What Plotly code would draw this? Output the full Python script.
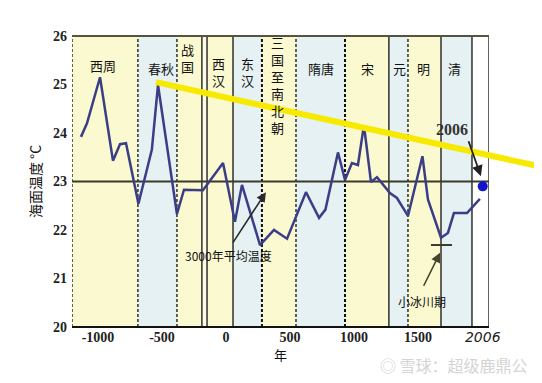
import plotly.graph_objects as go

# ---------------- data ----------------
years = [-1133, -1086, -984, -883, -828, -781, -684, -579, -531, -383, -328, -180,
         -23, 70, 125, 266, 375, 477, 625, 727, 777, 875, 930, 984, 1031, 1078,
         1133, 1180, 1281, 1336, 1422, 1535, 1578, 1680, 1734, 1781, 1883, 1984]
temps = [23.92, 24.2, 25.15, 23.43, 23.77, 23.79, 22.54, 23.66, 24.99, 22.33, 22.83, 22.82,
         23.38, 22.17, 22.93, 21.69, 22.0, 21.82, 22.78, 22.25, 22.42, 23.6, 23.03, 23.38, 23.34, 24.16,
         22.99, 23.09, 22.76, 22.66, 22.29, 23.52, 22.63, 21.84, 21.94, 22.35, 22.35, 22.64]

mean_temp = 23.0
point_2006_year = 2006
point_2006_temp = 22.9

x_range = [-1203, 2055]
y_range = [20, 26]

# dynasty bands
band_edges = [-1203, -688, -383, -188, -148, 55, 281, 547, 930, 1273, 1422, 1680, 1922, 2055]
band_kind = ["y", "b", "y", "w", "y", "b", "y", "b", "y", "b", "y", "b", "n"]
divider_years = [-1203, -688, -383, -188, -148, 55, 281, 547, 930, 1273, 1422, 1680, 1922, 2055]
divider_style = ["d", "d", "d", "s", "s", "s", "D", "d", "D", "s", "d", "s", "s", "s"]

dynasty_names = ["西周", "春秋", "战<br>国", "西<br>汉", "东<br>汉",
                 "三<br>国<br>至<br>南<br>北<br>朝", "隋唐", "宋", "元", "明", "清"]
dynasty_x = [-961, -508, -297, -55, 172, 406, 742, 1102, 1352, 1547, 1789]
dynasty_y = [25.4, 25.32, 25.55, 25.26, 25.26, 25.0, 25.32, 25.32, 25.32, 25.32, 25.32]

# trend line (yellow) endpoints
trend_years = [-547, 2469]
trend_temps = [25.05, 23.30]

# little ice age marker
lia_years = [1602, 1766]
lia_temp = 21.69

x_tickvals = [-1000, -500, 0, 500, 1000, 1500, 2006]
x_ticktext = ["-1000", "-500", "0", "500", "1000", "1500",
              "<span style='font-family:DejaVu Sans;font-style:italic;font-weight:normal'>2006</span>"]
y_tickvals = [20, 21, 22, 23, 24, 25, 26]

# ---------------- figure ----------------
fig = go.Figure()

CJK = "Noto Sans CJK SC"
colors = {"y": "#fbf9cf", "b": "#e6f1f3", "w": "#fcfce6", "n": "#ffffff"}

shapes = []
for i, k in enumerate(band_kind):
    shapes.append(dict(type="rect", xref="x", yref="y domain", x0=band_edges[i], x1=band_edges[i + 1],
                       y0=0, y1=1, fillcolor=colors[k], line_width=0, layer="below"))

for xv, st in zip(divider_years, divider_style):
    if st == "s":
        ln = dict(color="#111111", width=1.3)
    elif st == "d":
        ln = dict(color="#111111", width=1.3, dash="3px,2px")
    else:
        ln = dict(color="#111111", width=2, dash="3px,2px")
    shapes.append(dict(type="line", xref="x", yref="y domain", x0=xv, x1=xv, y0=0, y1=1,
                       line=ln, layer="below"))

# top and bottom borders
shapes.append(dict(type="line", xref="x domain", yref="y domain", x0=0, x1=1, y0=1, y1=1,
                   line=dict(color="#55553f", width=2), layer="below"))
shapes.append(dict(type="line", xref="x domain", yref="y domain", x0=0, x1=1, y0=0, y1=0,
                   line=dict(color="#111111", width=2), layer="below"))
# mean temperature line
shapes.append(dict(type="line", xref="x domain", yref="y", x0=0, x1=1, y0=mean_temp, y1=mean_temp,
                   line=dict(color="#3a3a2c", width=2), layer="below"))

# yellow trend line in paper coords (computed from data units)
def px(xv):
    return (xv - x_range[0]) / (x_range[1] - x_range[0])

def py(yv):
    return (yv - y_range[0]) / (y_range[1] - y_range[0])

shapes.append(dict(type="line", xref="paper", yref="paper",
                   x0=px(trend_years[0]), y0=py(trend_temps[0]),
                   x1=px(trend_years[1]), y1=py(trend_temps[1]),
                   line=dict(color="#f7ea00", width=6), layer="above"))

fig.add_trace(go.Scatter(x=years, y=temps, mode="lines",
                         line=dict(color="#3b3e86", width=2.5), hoverinfo="skip"))
fig.add_trace(go.Scatter(x=lia_years, y=[lia_temp, lia_temp], mode="lines",
                         line=dict(color="#3a3a2c", width=2), hoverinfo="skip"))
fig.add_trace(go.Scatter(x=[point_2006_year], y=[point_2006_temp], mode="markers",
                         marker=dict(color="#1414c8", size=10), cliponaxis=False, hoverinfo="skip"))

annotations = []
for name, xv, yv in zip(dynasty_names, dynasty_x, dynasty_y):
    annotations.append(dict(x=xv, y=yv, xref="x", yref="y", text=name, showarrow=False,
                            font=dict(family=CJK, size=13, color="#111111")))

annotations.append(dict(x=312, y=22.78, ax=47, ay=21.71, xref="x", yref="y", axref="x", ayref="y",
                        text="", showarrow=True, arrowhead=2, arrowsize=1.2, arrowwidth=1.6,
                        arrowcolor="#2a2a2a"))
annotations.append(dict(x=23, y=21.48, xref="x", yref="y", text="3000年平均温度", showarrow=False,
                        font=dict(family=CJK, size=12, color="#111111")))

annotations.append(dict(x=1672, y=21.53, ax=1539, ay=20.82, xref="x", yref="y", axref="x", ayref="y",
                        text="", showarrow=True, arrowhead=2, arrowsize=1.2, arrowwidth=1.6,
                        arrowcolor="#45452f"))
annotations.append(dict(x=1531, y=20.52, xref="x", yref="y", text="小冰川期", showarrow=False,
                        font=dict(family=CJK, size=12, color="#111111")))

annotations.append(dict(x=1992, y=23.11, ax=1891, ay=23.86, xref="x", yref="y", axref="x", ayref="y",
                        text="", showarrow=True, arrowhead=2, arrowsize=1.2, arrowwidth=1.8,
                        arrowcolor="#222222"))
annotations.append(dict(x=1766, y=24.08, xref="x", yref="y", text="<b>2006</b>", showarrow=False,
                        font=dict(family="Liberation Serif", size=16, color="#333333")))

annotations.append(dict(x=1.098, y=-0.13, xref="paper", yref="paper", text="◎ 雪球：超级鹿鼎公",
                        showarrow=False, xanchor="right", yanchor="middle",
                        font=dict(family=CJK, size=16, color="#d4d4d4")))

fig.update_layout(
    width=534, height=375,
    margin=dict(l=64, r=53, t=28, b=56),
    paper_bgcolor="white", plot_bgcolor="white",
    showlegend=False,
    shapes=shapes, annotations=annotations,
    xaxis=dict(range=x_range, tickvals=x_tickvals, ticktext=x_ticktext, showgrid=False,
               zeroline=False, showline=False, ticks="",
               tickfont=dict(family="Liberation Serif", size=14, color="#222222", weight="bold"),
               title=dict(text="年", font=dict(family=CJK, size=13, color="#111111"), standoff=4)),
    yaxis=dict(range=y_range, tickvals=y_tickvals, showgrid=False, zeroline=False, showline=False,
               ticks="", ticklabelstandoff=4,
               tickfont=dict(family="Liberation Serif", size=14, color="#222222", weight="bold"),
               title=dict(text="海面温度 °C", font=dict(family=CJK, size=14, color="#111111"), standoff=8)),
)

fig.write_html("out.html")
